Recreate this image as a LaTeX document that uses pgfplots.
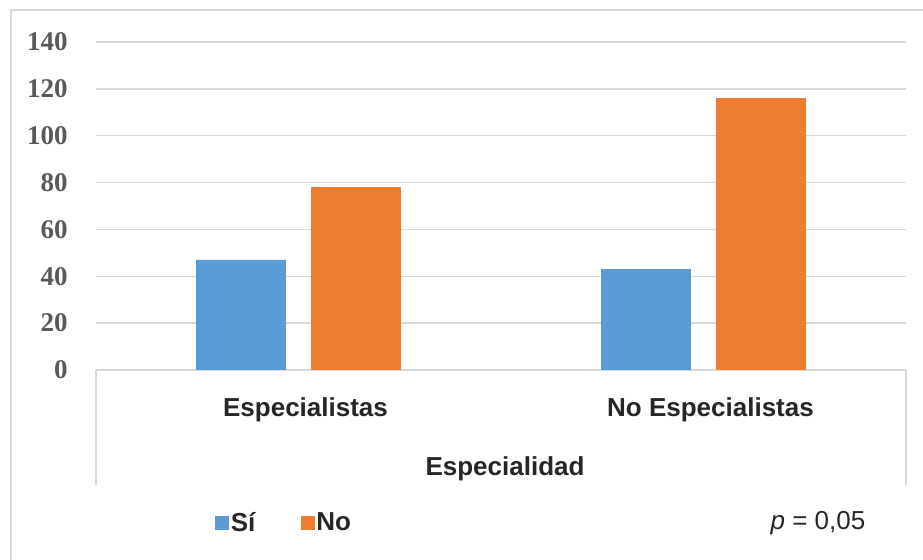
\documentclass[border=0pt]{standalone}
\usepackage{fontspec}
\setmainfont{Liberation Sans}
\newfontfamily\tickfont{Liberation Serif}
\usepackage{pgfplots}
\pgfplotsset{compat=1.18}

\definecolor{siblue}{HTML}{5B9BD5}
\definecolor{noorange}{HTML}{ED7D31}
\definecolor{gridgray}{HTML}{D9D9D9}
\definecolor{ticktext}{HTML}{595959}
\definecolor{labeltext}{HTML}{262626}

\begin{document}
\begin{tikzpicture}
\path[use as bounding box] (0,0) rectangle (461.5pt,280pt);
% chart frame
\draw[gridgray, line width=1pt] (5.5pt,0) -- (5.5pt,275pt) -- (461.5pt,275pt);
\begin{axis}[
  at={(48pt,95pt)}, anchor=south west,
  width=405pt, height=164pt, scale only axis,
  clip=false,
  ymin=0, ymax=140, ytick={0,20,...,140},
  xmin=-0.5, xmax=1.5, xtick={0,1},
  xticklabels={Especialistas, No Especialistas},
  ybar, bar width=0.222,
  axis line style={draw=none},
  major tick length=0pt,
  ymajorgrids, grid style={gridgray, line width=0.75pt},
  /pgf/number format/assume math mode=true,
  yticklabel style={font=\fontsize{13.5}{15}\selectfont\tickfont\bfseries, text=ticktext,
    anchor=east, inner sep=0pt, xshift=-14pt},
  xticklabel style={font=\fontsize{13}{15}\selectfont\bfseries, text=labeltext,
    anchor=center, yshift=-20pt, xshift=3.5pt},
  xlabel={Especialidad},
  xlabel style={font=\fontsize{13}{15}\selectfont\bfseries, text=labeltext,
    at={(axis description cs:0.5,0)}, anchor=center, yshift=-49.5pt, xshift=2pt},
  legend image code/.code={\fill[#1] (0pt,-3.5pt) rectangle (7pt,3.5pt);},
  legend style={at={(rel axis cs:0,0)}, anchor=west, xshift=59.5pt, yshift=-76.5pt,
    draw=none, fill=none, inner sep=0pt, legend columns=-1,
    nodes={inner sep=0.75pt, font=\fontsize{13}{15}\selectfont\bfseries, text=labeltext},
    /tikz/every even column/.append style={column sep=22pt}},
]
\addplot[fill=siblue, draw=none, bar shift=-0.142] coordinates {(0,47) (1,43)};
\addlegendentry{Sí}
\addplot[fill=noorange, draw=none, bar shift=0.142] coordinates {(0,78) (1,116)};
\addlegendentry{No}
% category band separators
\draw[gridgray, line width=0.75pt] (rel axis cs:0,0) -- ++(0pt,-57.5pt);
\draw[gridgray, line width=0.75pt] (rel axis cs:1,0) -- ++(0pt,-57.5pt);
\end{axis}
\node[font=\fontsize{13}{15}\selectfont, text=labeltext] at (409pt,18.5pt) {\textit{p} = 0,05};
\end{tikzpicture}
\end{document}
